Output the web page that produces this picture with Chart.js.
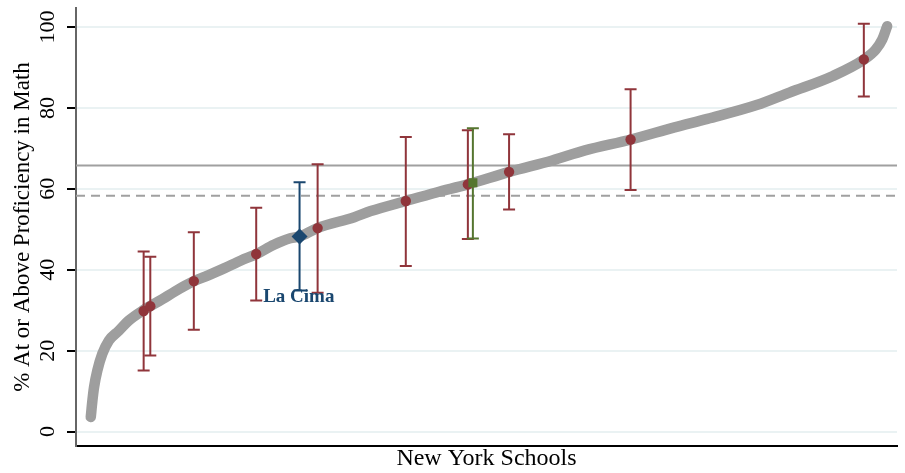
<!DOCTYPE html>
<html>
<head>
<meta charset="utf-8">
<title>La Cima math proficiency</title>
<script src="https://cdn.jsdelivr.net/npm/chart.js@4.4.1/dist/chart.umd.min.js"></script>
<style>
  html, body { margin: 0; padding: 0; background: #fff; }
  #wrap { position: relative; width: 905px; height: 473px; }
</style>
</head>
<body>
<div id="wrap"><canvas id="chart"></canvas></div>
<script>
// all schools, ranked (x = rank percentile, y = % proficient)
const curveX = [1.8, 2.0, 2.2, 2.6, 3.2, 4.0, 5.2, 6.4, 8.2, 10.5, 12.1, 14.4, 16.1, 18.1, 20.1, 22.0, 24.1, 26.1, 27.2,
                29.4, 33.9, 35.9, 40.2, 43.9, 47.7, 52.8, 58.0, 62.0, 67.6, 72.9, 76.9, 82.9, 86.9, 92.2, 96.0, 97.4, 98.2, 98.8];
const curveY = [3.6, 7.7, 11.0, 15.1, 19.2, 22.5, 24.9, 27.4, 30.0, 32.7, 34.7, 37.2, 38.6, 40.4, 42.3, 43.9, 46.2, 47.8, 48.2,
                50.3, 53.0, 54.5, 57.0, 59.1, 61.1, 64.2, 67.0, 69.5, 72.2, 75.2, 77.3, 80.7, 83.8, 87.9, 92.0, 94.4, 96.9, 100.2];

// comparison schools with intervals
const ptX  = [8.24, 9.05, 14.35, 21.95, 29.43, 40.17, 47.73, 52.75, 67.55, 95.96];
const ptY  = [29.8, 31.0, 37.2, 43.9, 50.3, 57.0, 61.1, 64.2, 72.2, 92.0];
const ptLo = [15.1, 18.8, 25.2, 32.4, 34.3, 40.9, 47.6, 54.9, 59.7, 82.8];
const ptHi = [44.5, 43.2, 49.3, 55.3, 66.1, 72.8, 74.5, 73.5, 84.6, 100.8];

// La Cima
const cimaX  = [27.23];
const cimaY  = [48.2];
const cimaLo = [34.9];
const cimaHi = [61.6];
const cimaLabel = 'La Cima';

// green comparison
const grnX  = [48.34];
const grnY  = [61.5];
const grnLo = [47.7];
const grnHi = [75.0];

// reference lines
const solidRef  = 65.8;
const dashedRef = 58.3;

const yTicks = [0, 20, 40, 60, 80, 100];
const yTitle = '% At or Above Proficiency in Math';
const xTitle = 'New York Schools';

const SERIF  = "'Liberation Serif', 'Times New Roman', serif";
const RED    = '#90353b';
const NAVY   = '#1a476f';
const GREEN  = '#55752f';
const GRAY   = '#9e9e9e';

document.addEventListener('DOMContentLoaded', () => {
  const ctx = document.getElementById('chart').getContext('2d');

  const toXY = (xs, ys) => xs.map((x, i) => ({x, y: ys[i]}));
  const lastIdx = curveX.length - 1;

  const errorBars = {
    id: 'errorBars',
    afterDatasetDraw(chart, args) {
      if (args.index !== 3) return;   // right after the gray curve
      const xs = chart.scales.x, ys = chart.scales.y, c = chart.ctx;
      const groups = [
        [ptX, ptLo, ptHi, RED],
        [cimaX, cimaLo, cimaHi, NAVY],
        [grnX, grnLo, grnHi, GREEN]
      ];
      c.save();
      c.lineWidth = 2;
      groups.forEach(([gx, lo, hi, col]) => {
        c.strokeStyle = col;
        gx.forEach((v, i) => {
          const px = xs.getPixelForValue(v);
          const p1 = ys.getPixelForValue(lo[i]);
          const p2 = ys.getPixelForValue(hi[i]);
          c.beginPath();
          c.moveTo(px, p1); c.lineTo(px, p2);
          c.moveTo(px - 6, p1); c.lineTo(px + 6, p1);
          c.moveTo(px - 6, p2); c.lineTo(px + 6, p2);
          c.stroke();
        });
      });
      c.restore();
    },
    afterDraw(chart) {
      const xs = chart.scales.x, ys = chart.scales.y, c = chart.ctx;
      c.save();
      // y tick labels, rotated like the original
      c.fillStyle = '#000';
      c.font = `22px ${SERIF}`;
      c.textAlign = 'center';
      c.textBaseline = 'middle';
      yTicks.forEach(v => {
        c.save();
        c.translate(48, ys.getPixelForValue(v));
        c.rotate(-Math.PI / 2);
        c.fillText(String(v), 0, 0);
        c.restore();
      });
      // La Cima label
      c.fillStyle = NAVY;
      c.font = `bold 19px ${SERIF}`;
      c.textAlign = 'left';
      c.fillText(cimaLabel, xs.getPixelForValue(22.8), ys.getPixelForValue(33.3));
      c.restore();
    }
  };

  new Chart(ctx, {
    data: {
      datasets: [
        {
          type: 'scatter', data: toXY(ptX, ptY), order: 1,
          pointStyle: 'circle', pointRadius: 5.2, borderWidth: 0,
          backgroundColor: RED
        },
        {
          type: 'scatter', data: toXY(cimaX, cimaY), order: 0,
          pointStyle: 'rectRot', pointRadius: 8, borderWidth: 0,
          backgroundColor: NAVY
        },
        {
          type: 'scatter', data: toXY(grnX, grnY), order: 0,
          pointStyle: 'rect', pointRadius: 6.4, borderWidth: 0,
          backgroundColor: GREEN
        },
        {
          type: 'line', data: toXY(curveX, curveY), order: 2,
          borderColor: GRAY, borderWidth: 10.5, borderCapStyle: 'round', borderJoinStyle: 'round',
          cubicInterpolationMode: 'monotone',
          pointStyle: 'crossRot',
          pointRadius: curveX.map((_, i) => (i < 2 || i === lastIdx) ? 4.5 : 0),
          pointBorderColor: GRAY, pointBorderWidth: 2.2
        },
        {
          type: 'line', data: [{x: 0, y: solidRef}, {x: 100, y: solidRef}], order: 3,
          borderColor: '#a0a0a0', borderWidth: 2, pointRadius: 0
        },
        {
          type: 'line', data: [{x: 0, y: dashedRef}, {x: 100, y: dashedRef}], order: 3,
          borderColor: '#a0a0a0', borderWidth: 2, borderDash: [9, 6], pointRadius: 0
        }
      ]
    },
    options: {
      responsive: true,
      maintainAspectRatio: false,
      animation: false,
      events: [],
      layout: { padding: { top: 5, right: 0, left: 0, bottom: 0 } },
      plugins: { legend: { display: false }, tooltip: { enabled: false } },
      scales: {
        x: {
          type: 'linear', min: 0, max: 100,
          afterFit: s => { s.height = 27; },
          ticks: { display: false },
          grid: { display: false },
          border: { color: '#000', width: 2 },
          title: {
            display: true, text: xTitle, color: '#000',
            font: { family: SERIF, size: 24 }, padding: { top: 0, bottom: 0 }
          }
        },
        y: {
          type: 'linear', min: -3.56, max: 104.7,
          afterFit: s => { s.width = 76; },
          afterBuildTicks: s => { s.ticks = yTicks.map(v => ({value: v})); },
          ticks: { display: false },
          grid: { color: '#eaf2f3', lineWidth: 2, tickColor: '#000', tickLength: 9, tickWidth: 2 },
          border: { color: '#666', width: 2 },
          title: {
            display: true, text: yTitle, color: '#000',
            font: { family: SERIF, size: 23 }, padding: { top: 9, bottom: 0 }
          }
        }
      }
    },
    plugins: [errorBars]
  });
});
</script>
</body>
</html>
